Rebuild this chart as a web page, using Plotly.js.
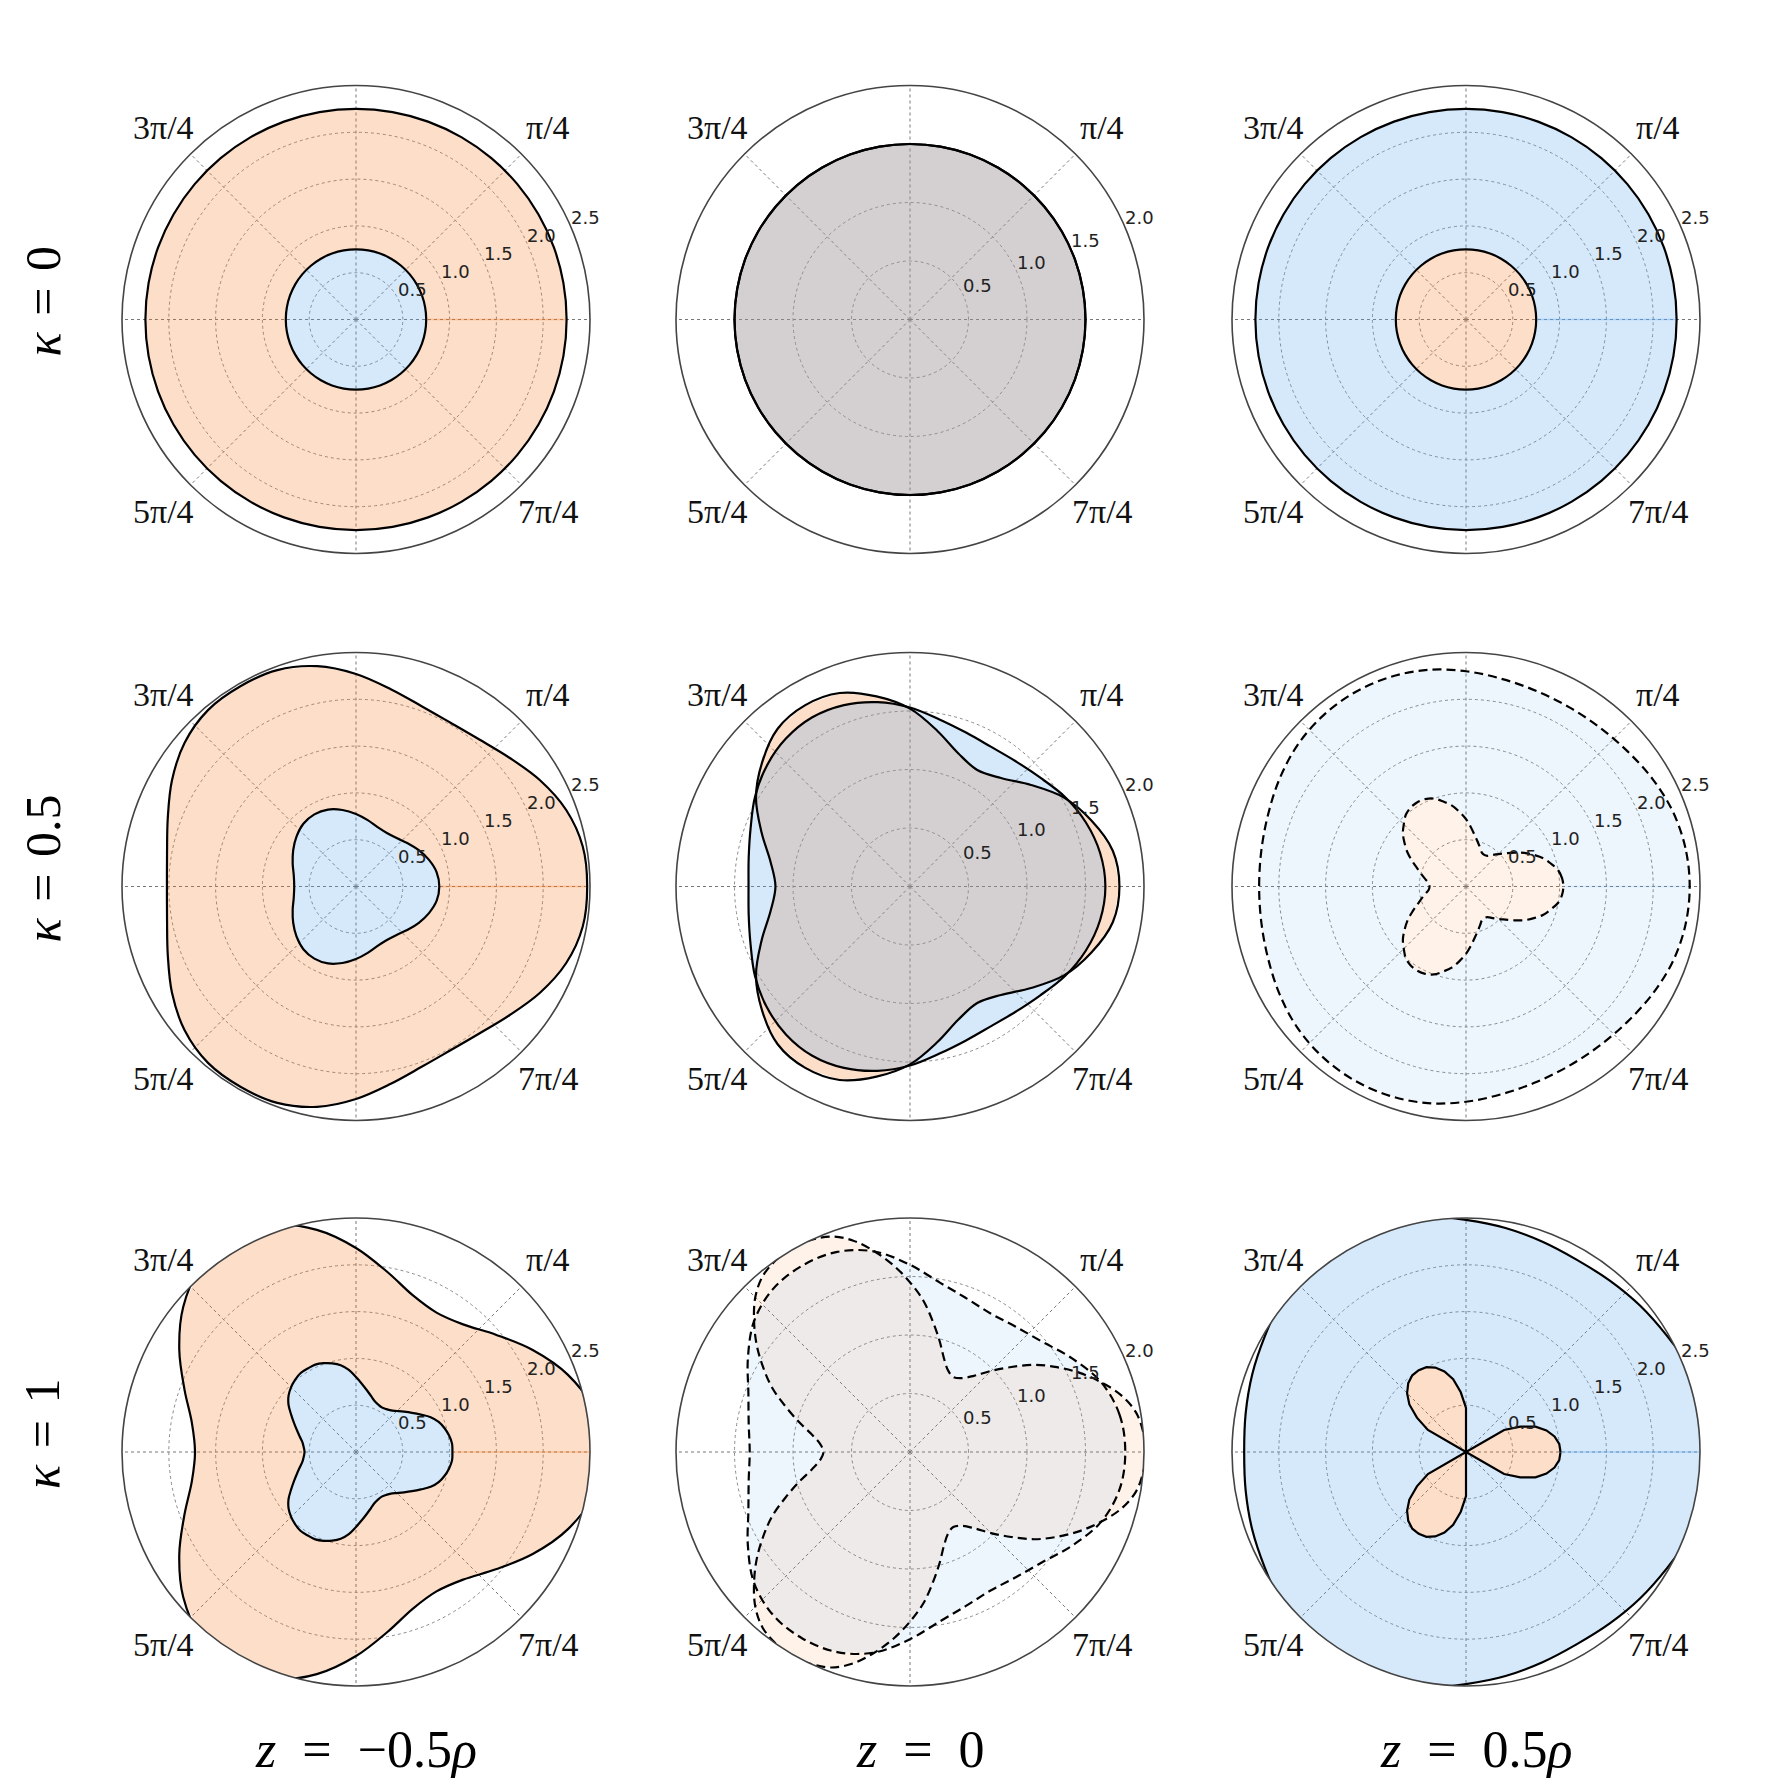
<!DOCTYPE html>
<html>
<head>
<meta charset="utf-8">
<script src="https://cdn.plot.ly/plotly-3.0.1.min.js"></script>
<style>html,body{margin:0;padding:0;background:#fff;}#chart{width:1768px;height:1790px;}</style>
</head>
<body>
<div id="chart"></div>
<script>
// ---------------- data (radii, angles in degrees) ----------------
const TH10 = [0,10,20,30,40,50,60,70,80,90,100,110,120,130,140,150,160,170,180,190,200,210,220,230,240,250,260,270,280,290,300,310,320,330,340,350,360];
const TH5 = [0,5,10,15,20,25,30,35,40,45,50,55,60,65,70,75,80,85,90,95,100,105,110,115,120,125,130,135,140,145,150,155,160,165,170,175,180,185,190,195,200,205,210,215,220,225,230,235,240,245,250,255,260,265,270,275,280,285,290,295,300,305,310,315,320,325,330,335,340,345,350,355,360];

// row kappa = 0 (circles)
const r00_orangeOuter = [2.25,2.25,2.25,2.25,2.25,2.25,2.25,2.25,2.25,2.25,2.25,2.25,2.25,2.25,2.25,2.25,2.25,2.25,2.25,2.25,2.25,2.25,2.25,2.25,2.25,2.25,2.25,2.25,2.25,2.25,2.25,2.25,2.25,2.25,2.25,2.25,2.25];
const r00_blueInner = [0.75,0.75,0.75,0.75,0.75,0.75,0.75,0.75,0.75,0.75,0.75,0.75,0.75,0.75,0.75,0.75,0.75,0.75,0.75,0.75,0.75,0.75,0.75,0.75,0.75,0.75,0.75,0.75,0.75,0.75,0.75,0.75,0.75,0.75,0.75,0.75,0.75];
const r01_orange = [1.5,1.5,1.5,1.5,1.5,1.5,1.5,1.5,1.5,1.5,1.5,1.5,1.5,1.5,1.5,1.5,1.5,1.5,1.5,1.5,1.5,1.5,1.5,1.5,1.5,1.5,1.5,1.5,1.5,1.5,1.5,1.5,1.5,1.5,1.5,1.5,1.5];
const r01_blue = [1.5,1.5,1.5,1.5,1.5,1.5,1.5,1.5,1.5,1.5,1.5,1.5,1.5,1.5,1.5,1.5,1.5,1.5,1.5,1.5,1.5,1.5,1.5,1.5,1.5,1.5,1.5,1.5,1.5,1.5,1.5,1.5,1.5,1.5,1.5,1.5,1.5];
const r02_blueOuter = [2.25,2.25,2.25,2.25,2.25,2.25,2.25,2.25,2.25,2.25,2.25,2.25,2.25,2.25,2.25,2.25,2.25,2.25,2.25,2.25,2.25,2.25,2.25,2.25,2.25,2.25,2.25,2.25,2.25,2.25,2.25,2.25,2.25,2.25,2.25,2.25,2.25];
const r02_orangeInner = [0.75,0.75,0.75,0.75,0.75,0.75,0.75,0.75,0.75,0.75,0.75,0.75,0.75,0.75,0.75,0.75,0.75,0.75,0.75,0.75,0.75,0.75,0.75,0.75,0.75,0.75,0.75,0.75,0.75,0.75,0.75,0.75,0.75,0.75,0.75,0.75,0.75];

// row kappa = 0.5
const r10_orangeOuter = [2.47,2.46,2.39,2.27,2.14,2.05,2.02,2.05,2.14,2.27,2.39,2.46, 2.47,2.46,2.39,2.27,2.14,2.05,2.02,2.05,2.14,2.27,2.39,2.46, 2.47,2.46,2.39,2.27,2.14,2.05,2.02,2.05,2.14,2.27,2.39,2.46, 2.47];
const r10_blueInner = [0.89,0.875,0.83,0.775,0.72,0.675,0.66,0.675,0.72,0.775,0.83,0.875, 0.89,0.875,0.83,0.775,0.72,0.675,0.66,0.675,0.72,0.775,0.83,0.875, 0.89,0.875,0.83,0.775,0.72,0.675,0.66,0.675,0.72,0.775,0.83,0.875, 0.89];
const r11_orange = [1.79,1.76,1.65,1.52,1.35,1.21,1.15,1.21,1.35,1.52,1.65,1.76, 1.79,1.76,1.65,1.52,1.35,1.21,1.15,1.21,1.35,1.52,1.65,1.76, 1.79,1.76,1.65,1.52,1.35,1.21,1.15,1.21,1.35,1.52,1.65,1.76, 1.79];
const r11_blue = [1.67,1.65,1.60,1.53,1.45,1.40,1.38,1.40,1.45,1.53,1.60,1.65, 1.67,1.65,1.60,1.53,1.45,1.40,1.38,1.40,1.45,1.53,1.60,1.65, 1.67,1.65,1.60,1.53,1.45,1.40,1.38,1.40,1.45,1.53,1.60,1.65, 1.67];
const r12_blueOuter = [2.39,2.38,2.35,2.30,2.25,2.22,2.21,2.22,2.25,2.30,2.35,2.38, 2.39,2.38,2.35,2.30,2.25,2.22,2.21,2.22,2.25,2.30,2.35,2.38, 2.39,2.38,2.35,2.30,2.25,2.22,2.21,2.22,2.25,2.30,2.35,2.38, 2.39];
const r12_orangeInner = [1.04,1.03,1.00,0.94,0.88,0.80,0.72,0.63,0.55,0.49,0.44,0.40,0.39,0.40,0.44,0.49,0.55,0.63,0.72,0.80,0.88,0.94,1.00,1.03,
  1.04,1.03,1.00,0.94,0.88,0.80,0.72,0.63,0.55,0.49,0.44,0.40,0.39,0.40,0.44,0.49,0.55,0.63,0.72,0.80,0.88,0.94,1.00,1.03,
  1.04,1.03,1.00,0.94,0.88,0.80,0.72,0.63,0.55,0.49,0.44,0.40,0.39,0.40,0.44,0.49,0.55,0.63,0.72,0.80,0.88,0.94,1.00,1.03, 1.04];

// row kappa = 1
const r20_orangeOuter = [2.64,2.58,2.41,2.18,1.95,1.78,1.72,1.78,1.95,2.18,2.41,2.58, 2.64,2.58,2.41,2.18,1.95,1.78,1.72,1.78,1.95,2.18,2.41,2.58, 2.64,2.58,2.41,2.18,1.95,1.78,1.72,1.78,1.95,2.18,2.41,2.58, 2.64];
const r20_blueInner = [1.03,1.03,1.01,0.98,0.94,0.88,0.80,0.73,0.67,0.62,0.58,0.56,0.55,0.56,0.58,0.62,0.67,0.73,0.80,0.88,0.94,0.98,1.01,1.03,
  1.03,1.03,1.01,0.98,0.94,0.88,0.80,0.73,0.67,0.62,0.58,0.56,0.55,0.56,0.58,0.62,0.67,0.73,0.80,0.88,0.94,0.98,1.01,1.03,
  1.03,1.03,1.01,0.98,0.94,0.88,0.80,0.73,0.67,0.62,0.58,0.56,0.55,0.56,0.58,0.62,0.67,0.73,0.80,0.88,0.94,0.98,1.01,1.03, 1.03];
const r21_orange = [2.02,2.00,1.96,1.87,1.74,1.60,1.45,1.30,1.13,0.98,0.85,0.77,0.74,0.77,0.85,0.98,1.13,1.30,1.45,1.60,1.74,1.87,1.96,2.00,
  2.02,2.00,1.96,1.87,1.74,1.60,1.45,1.30,1.13,0.98,0.85,0.77,0.74,0.77,0.85,0.98,1.13,1.30,1.45,1.60,1.74,1.87,1.96,2.00,
  2.02,2.00,1.96,1.87,1.74,1.60,1.45,1.30,1.13,0.98,0.85,0.77,0.74,0.77,0.85,0.98,1.13,1.30,1.45,1.60,1.74,1.87,1.96,2.00, 2.02];
const r21_blue = [1.84,1.82,1.74,1.60,1.47,1.40,1.37,1.40,1.47,1.60,1.74,1.82, 1.84,1.82,1.74,1.60,1.47,1.40,1.37,1.40,1.47,1.60,1.74,1.82, 1.84,1.82,1.74,1.60,1.47,1.40,1.37,1.40,1.47,1.60,1.74,1.82, 1.84];
const r22_blueOuter = [2.68,2.63,2.56,2.48,2.43,2.39,2.37,2.39,2.43,2.48,2.56,2.63, 2.68,2.63,2.56,2.48,2.43,2.39,2.37,2.39,2.43,2.48,2.56,2.63, 2.68,2.63,2.56,2.48,2.43,2.39,2.37,2.39,2.43,2.48,2.56,2.63, 2.68];
const r22_orangePetals = [1.01,1.00,0.96,0.89,0.79,0.64,0.47,0,0,0,0,0,0,0,0,0,0,0,0.47,0.64,0.79,0.89,0.96,1.00,
  1.01,1.00,0.96,0.89,0.79,0.64,0.47,0,0,0,0,0,0,0,0,0,0,0,0.47,0.64,0.79,0.89,0.96,1.00,
  1.01,1.00,0.96,0.89,0.79,0.64,0.47,0,0,0,0,0,0,0,0,0,0,0,0.47,0.64,0.79,0.89,0.96,1.00, 1.01];

// axis ticks and labels
const angTickVals = [0,45,90,135,180,225,270,315];
const angLabelVals = [45,135,225,315];
const angLabelText = ['π/4', '3π/4', '5π/4', '7π/4'];
const radTickVals25 = [0.5,1.0,1.5,2.0,2.5];
const radTickText25 = ['0.5','1.0','1.5','2.0','2.5'];
const radTickVals20 = [0.5,1.0,1.5,2.0];
const radTickText20 = ['0.5','1.0','1.5','2.0'];
const rowLabels = ['<i>κ</i>\u2004=\u20040', '<i>κ</i>\u2004=\u20040.5', '<i>κ</i>\u2004=\u20041'];
const colLabels = ['<i>z</i>\u2002=\u2002−0.5<i>ρ</i>', '<i>z</i>\u2002=\u20020', '<i>z</i>\u2002=\u20020.5<i>ρ</i>'];

// ---------------- styling / layout ----------------
const W = 1768, H = 1790, R = 234, LABEL_R = 272, RAD_ANGLE = 22.5;
const RAD_LABEL_DX = 13, RAD_LABEL_DY = 12;   // label offset from the ring crossing, px
const colCx = [356, 910, 1466];
const rowCy = [319.5, 886.5, 1452];
const ORANGE = 'rgba(247,123,35,0.25)';
const BLUE = 'rgba(91,167,239,0.25)';
const ORANGE_L = 'rgba(247,123,35,0.10)';
const BLUE_L = 'rgba(91,167,239,0.10)';
const ORANGE_SEAM = 'rgba(247,123,35,0.35)';
const BLUE_SEAM = 'rgba(91,167,239,0.40)';
const BLUE_L_SEAM = 'rgba(91,167,239,0.15)';
const SERIF = '"Liberation Serif", "DejaVu Serif", serif';

function sp(i){ return i === 0 ? 'polar' : 'polar' + (i + 1); }

const traces = [];
function fillDisk(idx, th, r, color){
  traces.push({type:'scatterpolar', subplot: sp(idx), theta: th, r: r, mode:'lines', fill:'toself',
    fillcolor: color, line:{width:0, color:'rgba(0,0,0,0)'}, hoverinfo:'skip', showlegend:false});
}
function fillRing(idx, thOut, rOut, thIn, rIn, color, seamColor){
  const th = thOut.concat(thIn.slice().reverse());
  const r = rOut.concat(rIn.slice().reverse());
  traces.push({type:'scatterpolar', subplot: sp(idx), theta: th, r: r, mode:'lines', fill:'toself',
    fillcolor: color, line:{width:0, color:'rgba(0,0,0,0)'}, hoverinfo:'skip', showlegend:false});
  // the thin seam where the ring fill closes on itself (theta = 0)
  traces.push({type:'scatterpolar', subplot: sp(idx), theta: [thIn[0], thOut[0]], r: [rIn[0], rOut[0]], mode:'lines',
    line:{width:1.3, color: seamColor}, hoverinfo:'skip', showlegend:false});
}
function outline(idx, th, r, dash, shape){
  traces.push({type:'scatterpolar', subplot: sp(idx), theta: th, r: r, mode:'lines',
    line:{color:'#000', width:2.2, dash: dash || 'solid', shape: shape || 'spline', smoothing: 1},
    hoverinfo:'skip', showlegend:false});
}

// panel 0: kappa=0, z=-0.5rho
fillRing(0, TH10, r00_orangeOuter, TH10, r00_blueInner, ORANGE, ORANGE_SEAM);
fillDisk(0, TH10, r00_blueInner, BLUE);
outline(0, TH10, r00_orangeOuter); outline(0, TH10, r00_blueInner);
// panel 1: kappa=0, z=0
fillDisk(1, TH10, r01_orange, ORANGE);
fillDisk(1, TH10, r01_blue, BLUE);
outline(1, TH10, r01_orange); outline(1, TH10, r01_blue);
// panel 2: kappa=0, z=0.5rho
fillDisk(2, TH10, r02_orangeInner, ORANGE);
fillRing(2, TH10, r02_blueOuter, TH10, r02_orangeInner, BLUE, BLUE_SEAM);
outline(2, TH10, r02_blueOuter); outline(2, TH10, r02_orangeInner);
// panel 3: kappa=0.5, z=-0.5rho
fillRing(3, TH10, r10_orangeOuter, TH10, r10_blueInner, ORANGE, ORANGE_SEAM);
fillDisk(3, TH10, r10_blueInner, BLUE);
outline(3, TH10, r10_orangeOuter); outline(3, TH10, r10_blueInner);
// panel 4: kappa=0.5, z=0
fillDisk(4, TH10, r11_orange, ORANGE);
fillDisk(4, TH10, r11_blue, BLUE);
outline(4, TH10, r11_orange); outline(4, TH10, r11_blue);
// panel 5: kappa=0.5, z=0.5rho
fillDisk(5, TH5, r12_orangeInner, ORANGE_L);
fillRing(5, TH10, r12_blueOuter, TH5, r12_orangeInner, BLUE_L, BLUE_L_SEAM);
outline(5, TH10, r12_blueOuter, '9px,5px'); outline(5, TH5, r12_orangeInner, '9px,5px');
// panel 6: kappa=1, z=-0.5rho
fillRing(6, TH10, r20_orangeOuter, TH5, r20_blueInner, ORANGE, ORANGE_SEAM);
fillDisk(6, TH5, r20_blueInner, BLUE);
outline(6, TH10, r20_orangeOuter); outline(6, TH5, r20_blueInner);
// panel 7: kappa=1, z=0
fillDisk(7, TH5, r21_orange, ORANGE_L);
fillDisk(7, TH10, r21_blue, BLUE_L);
outline(7, TH5, r21_orange, '9px,5px'); outline(7, TH10, r21_blue, '9px,5px');
// panel 8: kappa=1, z=0.5rho
fillDisk(8, TH5, r22_orangePetals, ORANGE);
fillRing(8, TH10, r22_blueOuter, TH5, r22_orangePetals, BLUE, BLUE_SEAM);
outline(8, TH10, r22_blueOuter); outline(8, TH5, r22_orangePetals, 'solid', 'linear');

const layout = {width: W, height: H, margin:{l:0,r:0,t:0,b:0}, paper_bgcolor:'#fff', showlegend:false, annotations: []};
for (let row = 0; row < 3; row++){
  for (let col = 0; col < 3; col++){
    const idx = row * 3 + col;
    const mid = col === 1;
    const rMax = mid ? 2.0 : 2.5;
    const rVals = mid ? radTickVals20 : radTickVals25;
    const rText = mid ? radTickText20 : radTickText25;
    layout[sp(idx)] = {
      domain: {x: [(colCx[col] - R) / W, (colCx[col] + R) / W], y: [1 - (rowCy[row] + R) / H, 1 - (rowCy[row] - R) / H]},
      bgcolor: '#fff',
      radialaxis: {range: [0, rMax], tickvals: rVals, ticktext: rText, showticklabels: false,
        angle: RAD_ANGLE, showline: false, ticks: '', gridcolor: '#8a8a8a', griddash: 'dot', gridwidth: 1},
      angularaxis: {tickvals: angTickVals, showticklabels: false, showline: true, linecolor: '#444', linewidth: 1.6,
        ticks: '', gridcolor: '#777', griddash: 'dot', gridwidth: 1}
    };
    // radial tick labels: horizontal text next to where each ring meets the 22.5 degree ray
    const ra = RAD_ANGLE * Math.PI / 180;
    for (let k = 0; k < rVals.length; k++){
      const px = rVals[k] / rMax * R;
      layout.annotations.push({text: rText[k], xref:'paper', yref:'paper',
        x: (colCx[col] + px * Math.cos(ra) + RAD_LABEL_DX) / W, y: 1 - (rowCy[row] - px * Math.sin(ra) - RAD_LABEL_DY) / H,
        xanchor:'center', yanchor:'middle', showarrow:false, font:{family: '"DejaVu Sans", sans-serif', size: 18, color:'#222'}});
    }
    // angular tick labels (pi fractions) placed just outside the circle along their angle
    for (let k = 0; k < angLabelVals.length; k++){
      const a = angLabelVals[k] * Math.PI / 180;
      layout.annotations.push({text: angLabelText[k], xref:'paper', yref:'paper',
        x: (colCx[col] + LABEL_R * Math.cos(a)) / W, y: 1 - (rowCy[row] - LABEL_R * Math.sin(a)) / H,
        xanchor:'center', yanchor:'middle', showarrow:false, font:{family: SERIF, size: 34, color:'#111'}});
    }
  }
}
for (let row = 0; row < 3; row++){
  layout.annotations.push({text: rowLabels[row], xref:'paper', yref:'paper', x: 42 / W, y: 1 - (rowCy[row] - 18) / H,
    xanchor:'center', yanchor:'middle', textangle: -90, showarrow:false, font:{family: SERIF, size: 50, color:'#000'}});
}
for (let col = 0; col < 3; col++){
  layout.annotations.push({text: colLabels[col], xref:'paper', yref:'paper', x: (colCx[col] + 10) / W, y: 1 - 1749 / H,
    xanchor:'center', yanchor:'middle', showarrow:false, font:{family: SERIF, size: 52, color:'#000'}});
}

Plotly.newPlot('chart', traces, layout, {displayModeBar:false, staticPlot:true});
</script>
</body>
</html>
